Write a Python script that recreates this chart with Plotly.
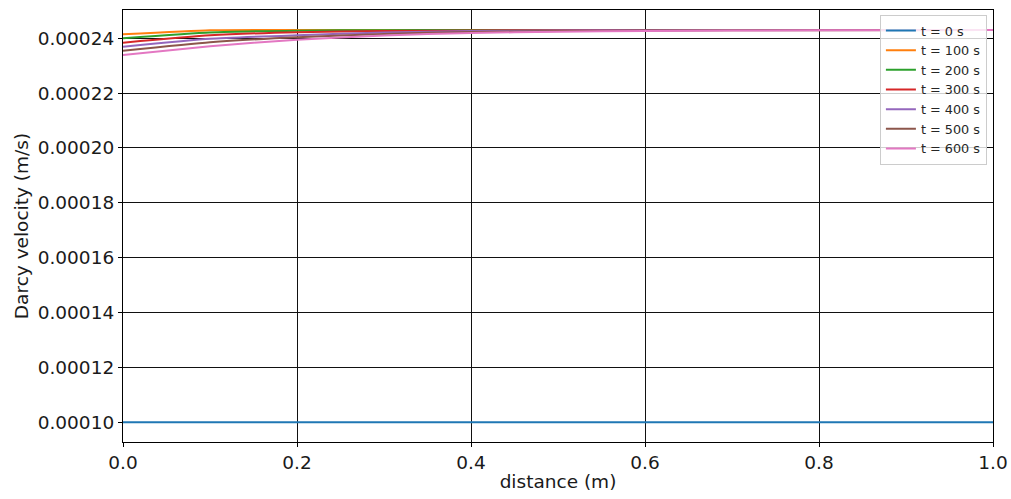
import plotly.graph_objects as go

distance = [0.0, 0.1, 0.2, 0.3, 0.4, 0.5, 0.6, 0.8, 1.0]

v_t0 = [0.00010] * 9
v_t100 = [0.00024146, 0.00024292, 0.00024303, 0.00024303, 0.00024303, 0.00024303, 0.00024303, 0.00024303, 0.00024303]
v_t200 = [0.00024000, 0.00024208, 0.00024277, 0.00024295, 0.00024303, 0.00024303, 0.00024303, 0.00024303, 0.00024303]
v_t300 = [0.00023840, 0.00024106, 0.00024222, 0.00024266, 0.00024284, 0.00024295, 0.00024303, 0.00024303, 0.00024303]
v_t400 = [0.00023694, 0.00023982, 0.00024109, 0.00024208, 0.00024263, 0.00024284, 0.00024295, 0.00024303, 0.00024303]
v_t500 = [0.00023548, 0.00023854, 0.00024036, 0.00024157, 0.00024230, 0.00024266, 0.00024281, 0.00024295, 0.00024303]
v_t600 = [0.00023391, 0.00023712, 0.00023949, 0.00024102, 0.00024193, 0.00024237, 0.00024266, 0.00024288, 0.00024299]

labels = ["t = 0 s", "t = 100 s", "t = 200 s", "t = 300 s", "t = 400 s", "t = 500 s", "t = 600 s"]
series = [v_t0, v_t100, v_t200, v_t300, v_t400, v_t500, v_t600]
colors = ["#1f77b4", "#ff7f0e", "#2ca02c", "#d62728", "#9467bd", "#8c564b", "#e377c2"]

fig = go.Figure()
for lab, vals, col in zip(labels, series, colors):
    fig.add_trace(go.Scatter(
        x=distance, y=vals, mode="lines", name=lab,
        line=dict(color=col, width=2, shape="spline", smoothing=0.5),
    ))

font_family = "DejaVu Sans"
fig.update_layout(
    width=1011, height=499,
    margin=dict(l=123, r=18, t=10, b=57, autoexpand=False),
    paper_bgcolor="white", plot_bgcolor="white",
    font=dict(family=font_family, size=18.5, color="#1a1a1a"),
    showlegend=True,
    legend=dict(
        x=0.993, y=0.989, xanchor="right", yanchor="top",
        bgcolor="rgba(255,255,255,0.8)", bordercolor="#cccccc", borderwidth=1,
        font=dict(family=font_family, size=12.8, color="#262626"),
        tracegroupgap=0,
    ),
)
fig.update_xaxes(
    range=[0, 1], tick0=0, dtick=0.2, tickformat=".1f", automargin=False,
    showgrid=True, gridcolor="#111111", gridwidth=1.2,
    showline=True, linecolor="black", linewidth=1.2, mirror=True,
    ticks="outside", ticklen=4, tickcolor="black", zeroline=False,
    tickfont=dict(size=18.5),
    title=dict(text="distance (m)", standoff=2, font=dict(size=18.5)),
)
fig.update_yaxes(
    range=[0.0000928, 0.0002503], tick0=0.0001, dtick=0.00002, tickformat=".5f", automargin=False,
    showgrid=True, gridcolor="#111111", gridwidth=1.2,
    showline=True, linecolor="black", linewidth=1.2, mirror=True,
    ticks="outside", ticklen=4, tickcolor="black", zeroline=False,
    tickfont=dict(size=18.5),
    title=dict(text="Darcy velocity (m/s)", standoff=4, font=dict(size=18.5)),
)

fig.write_html("out.html")
